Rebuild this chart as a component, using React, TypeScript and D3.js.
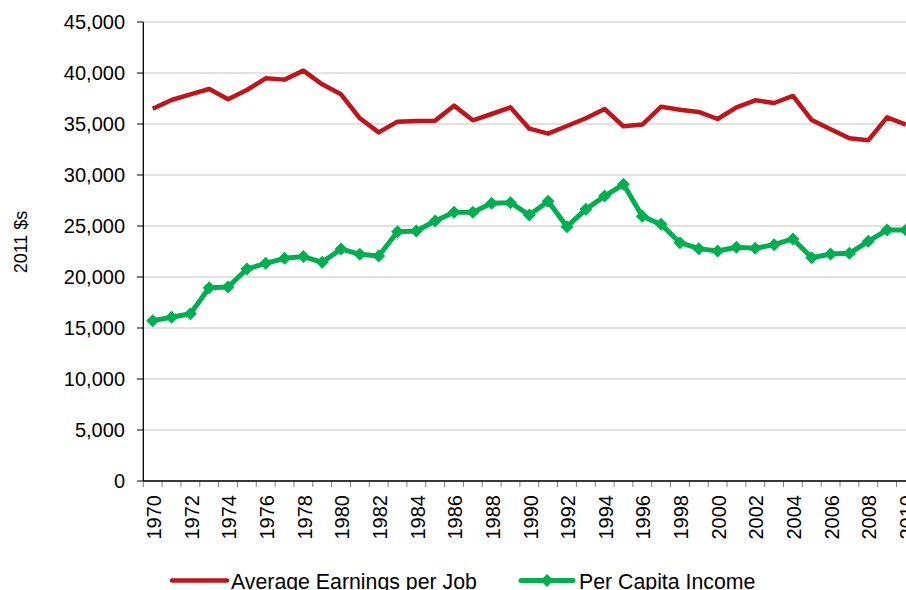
import React from "react";
import * as d3 from "d3";

const years: number[] = d3.range(1970, 2012);
const earningsPerJob: number[] = [
  36500, 37350, 37900, 38430, 37420, 38330, 39480, 39350, 40230, 38890,
  37910, 35560, 34180, 35230, 35290, 35330, 36800, 35360, 35980, 36630,
  34540, 34050, 34800, 35560, 36470, 34770, 34950, 36700, 36400, 36180,
  35490, 36630, 37320, 37060, 37750, 35390, 34480, 33600, 33400, 35650,
  34930,
];
const perCapitaIncome: number[] = [
  15720, 16050, 16400, 18950, 19020, 20780, 21340, 21830, 22000, 21440,
  22750, 22220, 22060, 24440, 24510, 25490, 26340, 26340, 27220, 27290,
  26080, 27420, 24930, 26630, 27940, 29090, 25950, 25160, 23360, 22780,
  22550, 22910, 22810, 23170, 23730, 21890, 22250, 22320, 23500, 24610,
  24610,
];
const yTicks: number[] = [0, 5000, 10000, 15000, 20000, 25000, 30000, 35000, 40000, 45000];
const seriesNames: string[] = ["Average Earnings per Job", "Per Capita Income"];
const yTitle = "2011 $s";

const W = 906;
const H = 590;
const FONT = "'Liberation Sans', Arial, sans-serif";
const RED = "#c0141a";
const GREEN = "#00b050";

export default function App() {
  const left = 143.3;
  const step = 18.83;
  const x = d3
    .scaleBand<number>()
    .domain(years)
    .range([left, left + step * years.length])
    .padding(0);
  const y = d3.scaleLinear().domain([0, 45000]).range([481, 22]);
  const cx = (yr: number) => (x(yr) as number) + x.bandwidth() / 2;

  const line = d3
    .line<number>()
    .x((_, i) => cx(years[i]))
    .y((v) => y(v));

  const diamond = (s: number) => `M0,${-s}L${s},0L0,${s}L${-s},0Z`;
  const fmt = d3.format(",");

  return (
    <svg
      width={W}
      height={H}
      style={{ position: "fixed", left: 0, top: 0, background: "#fff" }}
      fontFamily={FONT}
    >
      <rect x={0} y={0} width={W} height={H} fill="#fff" />
      {/* gridlines */}
      {yTicks.map((t) => (
        <line key={"g" + t} x1={left} x2={W} y1={y(t)} y2={y(t)} stroke="#d9d9d9" strokeWidth={1.3} />
      ))}
      {/* y ticks and labels */}
      {yTicks.map((t) => (
        <g key={"yt" + t}>
          <line x1={137} x2={left} y1={y(t)} y2={y(t)} stroke="#000" strokeWidth={1} />
          <text x={125} y={y(t)} dy="0.36em" textAnchor="end" fontSize={20} fill="#000">
            {fmt(t)}
          </text>
        </g>
      ))}
      {/* x ticks */}
      {years.concat([2012]).map((yr, i) => (
        <line
          key={"xt" + yr}
          x1={left + i * step}
          x2={left + i * step}
          y1={481}
          y2={487}
          stroke="#808080"
          strokeWidth={1}
        />
      ))}
      {/* x labels */}
      {years
        .filter((yr) => yr % 2 === 0)
        .map((yr) => (
          <text
            key={"xl" + yr}
            transform={`translate(${cx(yr) + 1},495) rotate(-90)`}
            dy="0.36em"
            textAnchor="end"
            fontSize={20}
            fill="#000"
          >
            {yr}
          </text>
        ))}
      {/* axes */}
      <line x1={left} x2={left} y1={22} y2={481} stroke="#000" strokeWidth={1.3} />
      <line x1={left} x2={W} y1={481} y2={481} stroke="#000" strokeWidth={1.3} />
      {/* y title */}
      <text
        transform={`translate(27,242) rotate(-90)`}
        textAnchor="middle"
        fontSize={18}
        fill="#000"
      >
        {yTitle}
      </text>
      {/* series */}
      <path d={line(earningsPerJob) || ""} fill="none" stroke={RED} strokeWidth={4.5} strokeLinejoin="round" />
      <path d={line(perCapitaIncome) || ""} fill="none" stroke={GREEN} strokeWidth={5} strokeLinejoin="round" />
      {perCapitaIncome.map((v, i) => (
        <path key={"m" + i} d={diamond(6.5)} transform={`translate(${cx(years[i])},${y(v)})`} fill={GREEN} />
      ))}
      {/* legend */}
      <line x1={172} x2={227} y1={580.5} y2={580.5} stroke={RED} strokeWidth={4.5} strokeLinecap="round" />
      <text x={231} y={581} dy="0.36em" fontSize={21.3} fill="#000">
        {seriesNames[0]}
      </text>
      <line x1={521} x2={573} y1={580.5} y2={580.5} stroke={GREEN} strokeWidth={5} strokeLinecap="round" />
      <path d={diamond(6.5)} transform="translate(547,580.5)" fill={GREEN} />
      <text x={579} y={581} dy="0.36em" fontSize={21.3} fill="#000">
        {seriesNames[1]}
      </text>
    </svg>
  );
}
